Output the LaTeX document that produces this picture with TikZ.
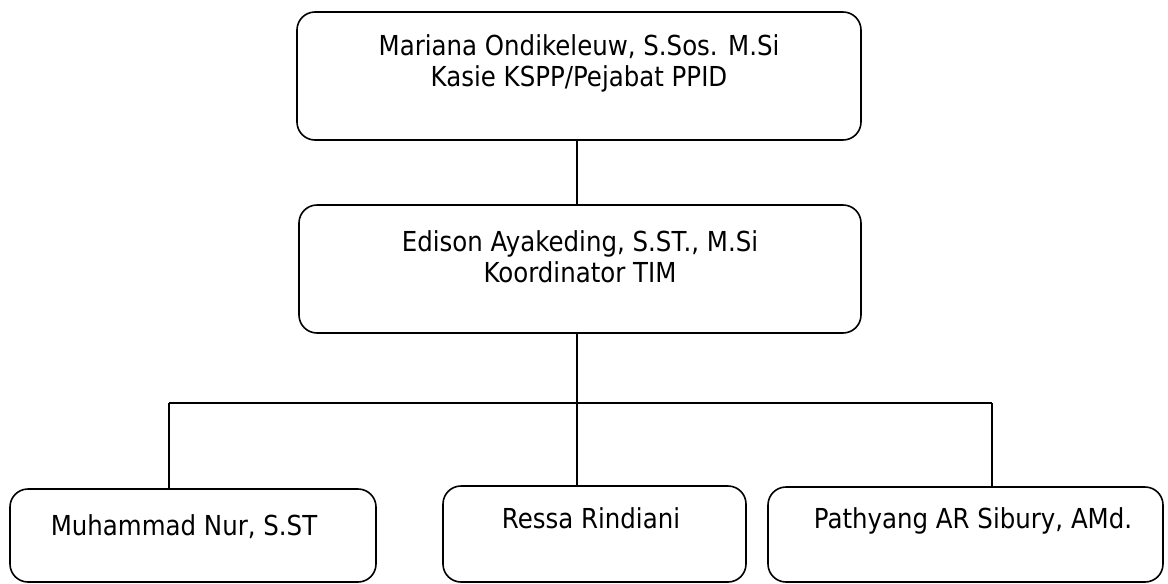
\documentclass[tikz,border=0pt]{standalone}
\usepackage{fontspec}
\setmainfont{DejaVu Sans}[FakeStretch=0.89]
\usepackage{tikz}
\usetikzlibrary{positioning}
\usetikzlibrary{calc}

\begin{document}
\begin{tikzpicture}[x=1pt,y=-1pt,
	unit/.style={draw=black,line width=1.6pt,rounded corners=18pt,inner sep=0pt},
	persontext/.style={align=center,inner sep=0pt,font=\fontsize{27.5}{31}\selectfont},
	link/.style={line width=1.6pt}]
				\def\busy{403};
				\def\busx{577};
				\useasboundingbox (0,0) rectangle (1168,584);
				% boxes
				\node[unit,minimum width=564pt,minimum height=128pt] (kasie) at (579,76) {};
				\node[unit,minimum width=562pt,minimum height=128pt] (koord) at (580,269) {};
				\node[unit,minimum width=366pt,minimum height=93pt] (muh) at (193,535.5) {};
				\node[unit,minimum width=303pt,minimum height=96pt] (ressa) at (594.5,534) {};
				\node[unit,minimum width=395pt,minimum height=95pt] (path) at (965.5,534.5) {};
				% texts
				\node[persontext] (kasietxt) at (579,63.5) {Mariana Ondikeleuw, S.Sos. M.Si\\Kasie KSPP/Pejabat PPID};
				\node[persontext] (koordtxt) at (580,257) {Edison Ayakeding, S.ST., M.Si\\Koordinator TIM};
				\node[persontext] (muhtxt) at (184,526.5) {Muhammad Nur, S.ST};
				\node[persontext] (ressatxt) at (591,518.5) {Ressa Rindiani};
				\node[persontext] (pathtxt) at (973,520.5) {Pathyang AR Sibury, AMd.};
				% lines
				\coordinate (bus) at (\busx,\busy);
				\coordinate (busl) at (169,\busy);
				\coordinate (busr) at (992,\busy);
				\draw[link] (kasie.south -| bus) -- (koord.north -| bus);
				\draw[link] (koord.south -| bus) -- (bus);
				\draw[link] (busl) -- (busr);
				\draw[link] (busl) -- (busl |- muh.north);
				\draw[link] (bus) -- (bus |- ressa.north);
				\draw[link] (busr) -- (busr |- path.north);
			\end{tikzpicture}
\end{document}
